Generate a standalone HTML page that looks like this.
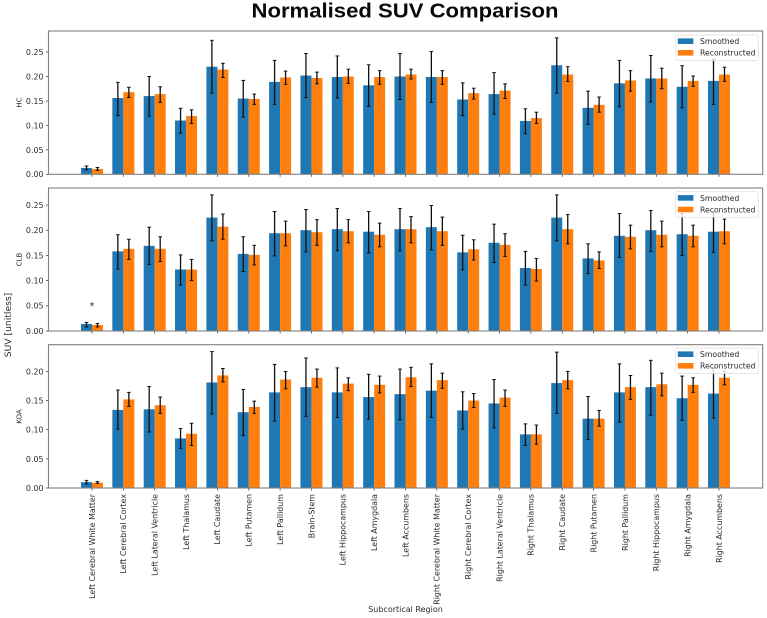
<!DOCTYPE html>
<html lang="en">
<head>
<meta charset="utf-8">
<title>Normalised SUV Comparison</title>
<style>
html,body{margin:0;padding:0;background:#fff;width:767px;height:618px;overflow:hidden}
svg{display:block;filter:blur(0.35px)}
text{font-family:"DejaVu Sans","Liberation Sans",sans-serif;fill:#2b2b2b}
</style>
</head>
<body>
<svg id="chart" xmlns="http://www.w3.org/2000/svg" width="767" height="618" viewBox="0 0 767 618">
  <text x="405" y="17.5" text-anchor="middle" font-size="20.5" font-weight="700" textLength="307" lengthAdjust="spacingAndGlyphs" style="font-family:'Liberation Sans',sans-serif;fill:#0a0a0a">Normalised SUV Comparison</text>
  <text transform="translate(11,325) rotate(-90)" text-anchor="middle" font-size="9.2">SUV [unitless]</text>
  <text x="405.5" y="612" text-anchor="middle" font-size="8">Subcortical Region</text>
</svg>
<script>
const categories = ["Left Cerebral White Matter","Left Cerebral Cortex","Left Lateral Ventricle","Left Thalamus","Left Caudate","Left Putamen","Left Pallidum","Brain-Stem","Left Hippocampus","Left Amygdala","Left Accumbens","Right Cerebral White Matter","Right Cerebral Cortex","Right Lateral Ventricle","Right Thalamus","Right Caudate","Right Putamen","Right Pallidum","Right Hippocampus","Right Amygdala","Right Accumbens"];
const seriesNames = ["Smoothed","Reconstructed"];
const yTicksFull = [0,0.05,0.10,0.15,0.20,0.25];
const yTicksKoa = [0,0.05,0.10,0.15,0.20];

const hcSmoothed = [.013,.156,.160,.110,.220,.155,.189,.202,.199,.182,.200,.199,.153,.164,.109,.223,.136,.186,.196,.179,.191];
const hcSmoothedLow = [.009,.120,.119,.084,.166,.117,.143,.157,.156,.139,.153,.147,.120,.123,.083,.166,.102,.138,.148,.136,.143];
const hcSmoothedHigh = [.017,.188,.200,.135,.274,.192,.233,.247,.242,.224,.247,.251,.187,.208,.134,.279,.170,.233,.243,.222,.235];
const hcRecon = [.011,.168,.164,.119,.214,.154,.198,.197,.200,.199,.204,.199,.166,.171,.115,.204,.142,.192,.196,.191,.204];
const hcReconLow = [.008,.157,.147,.104,.198,.143,.184,.185,.186,.184,.195,.184,.154,.155,.104,.190,.127,.170,.175,.180,.190];
const hcReconHigh = [.014,.178,.179,.132,.227,.164,.211,.209,.215,.212,.215,.212,.176,.185,.127,.220,.158,.212,.217,.201,.219];

const clbSmoothed = [.014,.158,.169,.122,.225,.153,.194,.200,.202,.197,.202,.206,.156,.175,.125,.225,.144,.189,.200,.192,.197];
const clbSmoothedLow = [.008,.123,.132,.091,.179,.118,.149,.157,.159,.155,.159,.161,.121,.136,.091,.179,.114,.146,.158,.150,.156];
const clbSmoothedHigh = [.017,.191,.206,.151,.270,.187,.237,.241,.243,.237,.243,.249,.190,.212,.158,.270,.173,.233,.239,.233,.237];
const clbRecon = [.012,.163,.163,.122,.207,.151,.194,.196,.198,.191,.202,.198,.162,.171,.123,.202,.140,.187,.191,.189,.198];
const clbReconLow = [.008,.142,.138,.100,.182,.131,.169,.170,.175,.167,.175,.170,.141,.148,.099,.173,.124,.163,.167,.167,.173];
const clbReconHigh = [.015,.182,.187,.142,.232,.170,.218,.221,.221,.214,.227,.226,.181,.193,.144,.231,.157,.210,.218,.210,.222];

const koaSmoothed = [.010,.134,.135,.085,.181,.130,.164,.173,.164,.156,.161,.167,.133,.145,.092,.180,.119,.164,.173,.154,.162];
const koaSmoothedLow = [.007,.101,.096,.068,.127,.090,.115,.123,.121,.118,.117,.121,.101,.103,.073,.128,.083,.113,.125,.116,.120];
const koaSmoothedHigh = [.013,.168,.174,.102,.234,.169,.212,.223,.206,.195,.204,.213,.165,.186,.110,.233,.157,.213,.219,.192,.206];
const koaRecon = [.009,.152,.142,.093,.193,.139,.186,.189,.179,.177,.190,.185,.150,.155,.092,.185,.119,.173,.178,.177,.189];
const koaReconLow = [.008,.140,.128,.073,.182,.128,.170,.173,.167,.163,.174,.171,.138,.140,.075,.170,.106,.152,.158,.164,.177];
const koaReconHigh = [.011,.164,.156,.111,.205,.149,.200,.204,.189,.192,.207,.197,.162,.168,.108,.200,.133,.193,.197,.189,.200];

const NS = "http://www.w3.org/2000/svg";
const svg = document.getElementById("chart");
const colors = ["#1f77b4","#ff7f0e"];
const frameLeft = 48.5, frameRight = 762.7, xFirst = 92, xStep = 31.35, barW = 11;

function xScale(i){ return xFirst + i * xStep; }
function make(tag, attrs, parent){
  const el = document.createElementNS(NS, tag);
  for (const k in attrs) el.setAttribute(k, attrs[k]);
  (parent || svg).appendChild(el);
  return el;
}

const panels = [
  {key:"hc", label:"HC", top:31, bottom:174.3, pxPerUnit:489, ticks:yTicksFull, labelY:102.5, legendTop:35,
   s:hcSmoothed, sl:hcSmoothedLow, sh:hcSmoothedHigh, r:hcRecon, rl:hcReconLow, rh:hcReconHigh},
  {key:"clb", label:"CLB", top:188, bottom:331, pxPerUnit:504, ticks:yTicksFull, labelY:259.5, legendTop:191.7,
   s:clbSmoothed, sl:clbSmoothedLow, sh:clbSmoothedHigh, r:clbRecon, rl:clbReconLow, rh:clbReconHigh},
  {key:"koa", label:"KOA", top:344.7, bottom:488, pxPerUnit:583, ticks:yTicksKoa, labelY:416.5, legendTop:348,
   s:koaSmoothed, sl:koaSmoothedLow, sh:koaSmoothedHigh, r:koaRecon, rl:koaReconLow, rh:koaReconHigh}
];

function drawError(group, cx, yS, lo, hi, name){
  const line = make("line", {x1:cx, x2:cx, y1:yS(lo), y2:yS(hi), stroke:"#111", "stroke-width":1.3}, group);
  
  
  [lo, hi].forEach(function(v){
    const cap = make("line", {x1:cx-1.8, x2:cx+1.8, y1:yS(v), y2:yS(v), stroke:"#111", "stroke-width":1}, group);
    
    
  });
}

panels.forEach(function(p, pi){
  const yS = function(v){ return p.bottom - v * p.pxPerUnit; };
  const g = make("g", {});
  
  

  categories.forEach(function(cat, i){
    const cx = xScale(i);
    const bs = make("rect", {x:cx-barW, y:yS(p.s[i]), width:barW, height:p.bottom-yS(p.s[i]), fill:colors[0]}, g);
    
    
    const br = make("rect", {x:cx, y:yS(p.r[i]), width:barW, height:p.bottom-yS(p.r[i]), fill:colors[1]}, g);
    
    
  });
  categories.forEach(function(cat, i){
    const cx = xScale(i);
    drawError(g, cx - barW/2, yS, p.sl[i], p.sh[i], p.key + '-smoothed-' + i);
    drawError(g, cx + barW/2, yS, p.rl[i], p.rh[i], p.key + '-reconstructed-' + i);
    const tick = make("line", {x1:cx, x2:cx, y1:p.bottom, y2:p.bottom+2.5, stroke:"#444", "stroke-width":0.8}, g);
    
    
  });

  p.ticks.forEach(function(v){
    const t = make("line", {x1:frameLeft-2.5, x2:frameLeft, y1:yS(v), y2:yS(v), stroke:"#444", "stroke-width":0.8}, g);
    
    
    const lab = make("text", {x:43.5, y:yS(v)+2.9, "text-anchor":"end", "font-size":7.9}, g);
    lab.textContent = v.toFixed(2);
    
    
  });

  const frame = make("rect", {x:frameLeft, y:p.top, width:frameRight-frameLeft, height:p.bottom-p.top, fill:"none", stroke:"#808080", "stroke-width":1.1}, g);
  
  

  const yl = make("text", {transform:"translate(21.5," + p.labelY + ") rotate(-90)", "text-anchor":"middle", "font-size":7}, g);
  yl.textContent = p.label;
  
  

  const lg = make("g", {}, g);
  
  
  const box = make("rect", {x:675.7, y:p.legendTop, width:82.5, height:25.5, rx:1.5, fill:"#fff", "fill-opacity":0.8, stroke:"#ddd", "stroke-width":0.7}, lg);
  
  
  seriesNames.forEach(function(name, si){
    const ly = p.legendTop + 3.4 + si * 11.6;
    const sw = make("rect", {x:677.8, y:ly, width:15.6, height:5.6, fill:colors[si]}, lg);
    
    
    const tx = make("text", {x:700, y:ly+5.7, "font-size":7.7}, lg);
    tx.textContent = name;
    
    
  });
});

categories.forEach(function(cat, i){
  const t = make("text", {transform:"translate(" + (xScale(i)+2.8) + ",494) rotate(-90)", "text-anchor":"end", "font-size":7.9});
  t.textContent = cat;
  
  
});

const star = make("text", {x:xScale(0), y:309, "text-anchor":"middle", "font-size":9.5});
star.textContent = "*";


</script>
</body>
</html>
